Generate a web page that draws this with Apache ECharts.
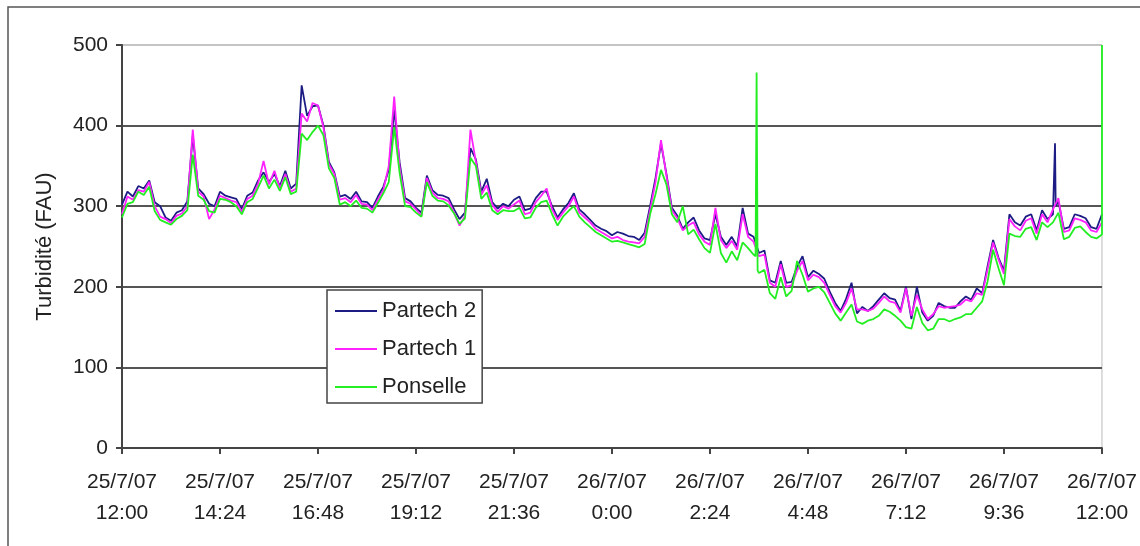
<!DOCTYPE html>
<html>
<head>
<meta charset="utf-8">
<script src="https://cdn.jsdelivr.net/npm/echarts@6/dist/echarts.min.js"></script>
<style>
  html, body { margin: 0; padding: 0; background: #fff; }
  #chart { width: 1140px; height: 546px; }
</style>
</head>
<body>
<div id="chart"></div>
<script>
// Turbidity record, 25/7/07 12:00 -> 26/7/07 12:00, one reading every STEP minutes
const STEP = 8;

const tickLabels = [
  '25/7/07\n12:00', '25/7/07\n14:24', '25/7/07\n16:48', '25/7/07\n19:12',
  '25/7/07\n21:36', '26/7/07\n0:00', '26/7/07\n2:24', '26/7/07\n4:48',
  '26/7/07\n7:12', '26/7/07\n9:36', '26/7/07\n12:00'
];

const seriesNames = ['Partech 2', 'Partech 1', 'Ponselle'];

const partech2 = [
  302, 318, 312, 325, 322, 332, 305, 300, 286, 282, 292, 295, 306, 388, 322, 315, 303, 300, 318,
  313, 311, 309, 296, 313, 317, 332, 342, 330, 340, 325, 344, 322, 328, 450, 412, 424, 425,
  400, 355, 342, 312, 314, 309, 318, 306, 305, 298, 312, 324, 345, 420, 354, 310, 306, 298,
  292, 338, 320, 314, 313, 310, 296, 284, 292, 372, 358, 318, 334, 305, 297, 303, 300, 308,
  312, 295, 297, 310, 318, 318, 300, 286, 296, 304, 316, 296, 290, 283, 276, 272, 269, 264,
  268, 266, 263, 262, 258, 267, 300, 335, 378, 340, 298, 288, 272, 280, 286, 270, 260, 258,
  290, 262, 252, 262, 250, 298, 266, 262, 242, 245, 208, 205, 232, 205, 206, 225, 238, 212,
  220, 216, 210, 194, 180, 170, 185, 205, 167, 175, 170, 176, 184, 192, 186, 184, 170, 200,
  160, 200, 168, 158, 164, 180, 176, 174, 174, 182, 188, 184, 198, 192, 226, 258, 236, 220,
  290, 280, 276, 287, 290, 270, 295, 284, 290, 306, 272, 274, 290, 288, 285, 274, 272, 290
];

const partech1 = [
  290, 312, 308, 320, 318, 330, 300, 287, 284, 279, 288, 291, 300, 395, 318, 312, 284, 296, 313,
  310, 307, 305, 293, 309, 313, 328, 356, 327, 344, 322, 340, 318, 322, 415, 405, 428, 425,
  398, 352, 340, 308, 310, 305, 314, 303, 302, 295, 308, 320, 350, 436, 348, 306, 303, 296,
  288, 335, 317, 310, 309, 306, 292, 276, 288, 395, 355, 314, 326, 302, 293, 300, 297, 302,
  307, 290, 292, 305, 313, 322, 296, 283, 292, 300, 312, 292, 286, 280, 272, 268, 264, 260,
  262, 258, 256, 255, 254, 262, 295, 330, 382, 338, 295, 285, 270, 276, 280, 265, 256, 252,
  298, 258, 248, 257, 246, 290, 262, 256, 238, 240, 205, 200, 228, 200, 202, 220, 232, 208,
  215, 212, 205, 190, 176, 168, 180, 198, 172, 172, 170, 173, 180, 188, 182, 180, 168, 198,
  164, 190, 172, 160, 166, 176, 174, 175, 176, 178, 184, 182, 192, 190, 222, 255, 234, 216,
  284, 275, 270, 282, 285, 266, 290, 280, 296, 310, 268, 270, 285, 283, 280, 270, 268, 280
];

const ponselle = [
  286, 303, 305, 318, 314, 324, 294, 283, 280, 277, 284, 288, 295, 364, 313, 308, 294, 292, 309,
  308, 305, 300, 290, 305, 309, 323, 338, 322, 333, 319, 336, 315, 318, 390, 382, 392, 400,
  388, 347, 335, 302, 305, 300, 307, 298, 297, 292, 304, 316, 330, 398, 341, 300, 299, 292,
  287, 330, 313, 307, 306, 301, 291, 278, 285, 360, 350, 309, 317, 295, 290, 295, 294, 294,
  298, 285, 286, 298, 305, 307, 290, 276, 287, 294, 300, 287, 280, 274, 268, 264, 260, 256,
  257, 255, 253, 251, 249, 253, 290, 315, 345, 327, 290, 280, 300, 265, 271, 259, 248, 242,
  278, 242, 230, 244, 233, 255, 248, 240, 217, 221, 192, 185, 212, 188, 195, 232, 215, 194,
  198, 200, 193, 180, 167, 158, 168, 178, 157, 154, 158, 160, 164, 172, 169, 164, 158, 150,
  148, 175, 155, 146, 148, 160, 160, 157, 160, 162, 166, 166, 174, 182, 207, 246, 223, 202,
  266, 263, 262, 272, 274, 258, 280, 274, 280, 292, 259, 262, 273, 275, 268, 262, 260, 265
];

// Short-lived readings between regular samples: [minute, value]
const partech2Extra = [[1370, 292], [1371, 378], [1372, 300]];
const partech1Extra = [];
const ponselleExtra = [[931, 238], [932.5, 466], [934, 220], [1440, 500]];

const colors = ['#1c1c84', '#ff22ff', '#22ee22'];

function toPairs(values, extra) {
  return values.map((v, i) => [i * STEP, v])
    .concat(extra)
    .sort((a, b) => a[0] - b[0]);
}

const seriesData = [
  toPairs(partech2, partech2Extra),
  toPairs(partech1, partech1Extra),
  toPairs(ponselle, ponselleExtra)
];

const FONT = '"Liberation Sans", Arial, sans-serif';
const TEXT = '#222';
// plain horizontal stroke used as legend key
const LEGEND_KEY = 'path://M0,0H42V1.8H0Z';

const chart = echarts.init(document.getElementById('chart'), null, { renderer: 'canvas' });

chart.setOption({
  animation: false,
  backgroundColor: '#fff',
  textStyle: { fontFamily: FONT, color: TEXT },
  graphic: [{
    type: 'rect',
    silent: true,
    z: -10,
    shape: { x: 8, y: 7, width: 1160, height: 580 },
    style: { fill: 'none', stroke: '#555', lineWidth: 1.5 }
  }],
  grid: {
    left: 122, right: 38, top: 45, bottom: 98,
    show: true, borderColor: '#bbb', borderWidth: 1, backgroundColor: 'transparent'
  },
  legend: {
    orient: 'vertical',
    left: 327, top: 290,
    itemWidth: 42, itemHeight: 21, itemGap: 16,
    padding: [10, 6, 5, 8],
    symbolKeepAspect: true,
    backgroundColor: '#fff',
    borderColor: '#444', borderWidth: 1.5, borderRadius: 0,
    textStyle: { fontSize: 22, color: TEXT, fontFamily: FONT },
    data: seriesNames.map(n => ({ name: n, icon: LEGEND_KEY }))
  },
  xAxis: {
    type: 'value',
    min: 0, max: 1440, interval: 144,
    axisLine: { lineStyle: { color: '#444', width: 2 } },
    axisTick: { length: 6, lineStyle: { color: '#444', width: 2 } },
    axisLabel: {
      fontSize: 21, lineHeight: 31, margin: 19, color: TEXT, fontFamily: FONT,
      showMinLabel: true, showMaxLabel: true,
      formatter: v => tickLabels[Math.round(v / 144)]
    },
    splitLine: { show: false }
  },
  yAxis: {
    type: 'value',
    min: 0, max: 500, interval: 100,
    name: 'Turbidité (FAU)',
    nameLocation: 'middle', nameGap: 66,
    nameTextStyle: { fontSize: 22, color: TEXT, fontFamily: FONT },
    axisLine: { show: true, lineStyle: { color: '#444', width: 2 } },
    axisTick: { show: true, length: 6, lineStyle: { color: '#444', width: 2 } },
    axisLabel: { fontSize: 21, color: TEXT, margin: 14, fontFamily: FONT },
    splitLine: {
      show: true,
      lineStyle: { color: ['#555', '#555', '#555', '#555', '#555', '#c4c4c4'], width: 2 }
    }
  },
  series: seriesNames.map((name, k) => ({
    name: name,
    type: 'line',
    data: seriesData[k],
    symbol: 'none',
    showSymbol: false,
    color: colors[k],
    lineStyle: { color: colors[k], width: 1.8 }
  }))
});
</script>
</body>
</html>
